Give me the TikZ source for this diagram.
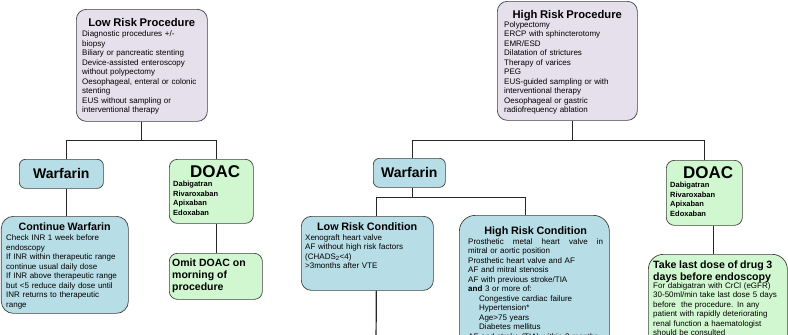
\documentclass[tikz,border=0pt]{standalone}
\usepackage{fontspec}
\setmainfont{Liberation Sans}
\usetikzlibrary{positioning}
\definecolor{procfill}{HTML}{E5E0EC}
\definecolor{warffill}{HTML}{B7DDE6}
\definecolor{doacfill}{HTML}{D0F7CF}

\begin{document}
\begin{tikzpicture}[x=1pt, y=-1pt,
  box/.style={draw=black!75, line width=0.7pt, inner sep=0pt, anchor=north west},
  procbox/.style={box, fill=procfill, rounded corners=10pt},
  warfbox/.style={box, fill=warffill, rounded corners=7pt},
  doacbox/.style={box, fill=doacfill, rounded corners=8pt},
  bigname/.style={font=\bfseries\fontsize{14}{16}\selectfont},
  txt/.style={inner sep=0pt, anchor=north west, align=left, font=\fontsize{8}{9.5}\selectfont},
  drugtxt/.style={txt, font=\bfseries\fontsize{7.5}{9.6}\selectfont},
  link/.style={draw=black!85, line width=1.2pt}]

\useasboundingbox (0,0) rectangle (788,335);
\clip (0,0) rectangle (788,335);

% procedures
\node[procbox, minimum width=131, minimum height=112] (lowproc) at (76,9) {};
\node[txt, text width=119] (lowprocTxt) at (82,17.8) {{\centering\bfseries\fontsize{11.2}{13}\selectfont Low Risk Procedure\par}\vspace{1pt}
  Diagnostic procedures +/-\\ biopsy\\ Biliary or pancreatic stenting\\ Device-assisted enteroscopy\\ without polypectomy\\
  Oesophageal, enteral or colonic\\ stenting\\ EUS without sampling or\\ interventional therapy};

\node[procbox, minimum width=140, minimum height=119] (highproc) at (497,1) {};
\node[txt, text width=126] (highprocTxt) at (504,10) {{\centering\bfseries\fontsize{11.2}{13}\selectfont High Risk Procedure\par}\vspace{-0.5pt}
  Polypectomy\\ ERCP with sphincterotomy\\ EMR/ESD\\ Dilatation of strictures\\ Therapy of varices\\ PEG\\
  EUS-guided sampling or with\\ interventional therapy\\ Oesophageal or gastric\\ radiofrequency ablation};

% low risk side
\node[warfbox, bigname, minimum width=84, minimum height=29, rounded corners=6pt] (warfL) at (19,159) {Warfarin};
\node[doacbox, minimum width=84, minimum height=64] (doacL) at (169,159) {};
\node[drugtxt, text width=84] (doacLTxt) at (173,165.9) {{\centering\fontsize{17}{18}\selectfont DOAC\par}\vspace{-1pt}
  Dabigatran\\ Rivaroxaban\\ Apixaban\\ Edoxaban};

\node[warfbox, minimum width=127, minimum height=97, rounded corners=12pt] (contwarf) at (1,216) {};
\node[txt, text width=117] (contwarfTxt) at (6,223) {{\centering\bfseries\fontsize{10.7}{12}\selectfont Continue Warfarin\par}\vspace{0.5pt}
  Check INR 1 week before\\ endoscopy\\ If INR within therapeutic range\\ continue usual daily dose\\
  If INR above therapeutic range\\ but <5 reduce daily dose until\\ INR returns to therapeutic\\ range};

\node[doacbox, minimum width=93, minimum height=46] (omitdoac) at (169,253) {};
\node[txt, font=\bfseries\fontsize{10.5}{12}\selectfont] (omitdoacTxt) at (172,258.2) {Omit DOAC on\\ morning of\\ procedure};

% high risk side
\node[warfbox, bigname, minimum width=72, minimum height=29, rounded corners=6pt] (warfR) at (373,158) {Warfarin};
\node[doacbox, minimum width=76, minimum height=65] (doacR) at (666,160) {};
\node[drugtxt, text width=76] (doacRTxt) at (670,166.9) {{\centering\fontsize{17}{18}\selectfont DOAC\par}\vspace{-1pt}
  Dabigatran\\ Rivaroxaban\\ Apixaban\\ Edoxaban};

\node[warfbox, minimum width=132, minimum height=74, rounded corners=10pt] (lowcond) at (301,216) {};
\node[txt, text width=124] (lowcondTxt) at (305,222) {{\centering\bfseries\fontsize{10.8}{12}\selectfont Low Risk Condition\par}\vspace{0.5pt}
  Xenograft heart valve\\ AF without high risk factors\\ (CHADS\textsubscript{2}<4)\\ >3months after VTE};

\node[warfbox, minimum width=150, minimum height=140, rounded corners=16pt] (highcond) at (459,215) {};
\node[txt, text width=135] (highcondTxt) at (468,226) {{\centering\bfseries\fontsize{10.8}{12}\selectfont High Risk Condition\par}\vspace{0.5pt}
  Prosthetic\hfill metal\hfill heart\hfill valve\hfill in\\ mitral or aortic position\\ Prosthetic heart valve and AF\\
  AF and mitral stenosis\\ AF with previous stroke/TIA\\ \textbf{and} 3 or more of:\\
  \hspace*{11pt}Congestive cardiac failure\\ \hspace*{11pt}Hypertension*\\ \hspace*{11pt}Age>75 years\\
  \hspace*{11pt}Diabetes mellitus\\ AF and stroke (TIA) within 3 months};

\node[doacbox, minimum width=139, minimum height=110, rounded corners=15pt] (lastdose) at (648,254) {};
\node[txt, text width=132] (lastdoseTxt) at (653,261) {{\bfseries\fontsize{10.6}{11.3}\selectfont Take last dose of drug 3\\ days before endoscopy\par}\vspace{-1.5pt}
  For dabigatran with CrCl (eGFR)\\ 30-50ml/min take last dose 5 days\\ before\ \ the procedure. In any\\
  patient with rapidly deteriorating\\ renal function a haematologist\\ should be consulted};

\coordinate (lcout) at (376,345);

% connectors
\draw[link] (lowproc.south) -- ++(0,19) -| ([xshift=5pt]warfL.north);
\draw[link] (lowproc.south) -- ++(0,19) -| ([xshift=5pt]doacL.north);
\draw[link] ([xshift=5pt]warfL.south) -- ([xshift=5pt]warfL.south |- contwarf.north);
\draw[link] ([xshift=5pt]doacL.south) -- ([xshift=5pt]doacL.south |- omitdoac.north);

\draw[link] ([xshift=5pt]highproc.south) -- ++(0,20) -| ([xshift=3pt]warfR.north);
\draw[link] ([xshift=5pt]highproc.south) -- ++(0,20) -| (doacR.north);
\draw[link] ([xshift=3pt]warfR.south) -- ++(0,10) -| ([xshift=9pt]lowcond.north);
\draw[link] ([xshift=3pt]warfR.south) -- ++(0,10) -| ([xshift=-9pt]highcond.north);
\draw[link] ([xshift=9pt]lowcond.south) -- (lcout);
\draw[link] ([xshift=9pt]doacR.south) -- ([xshift=9pt]doacR.south |- lastdose.north);

\end{tikzpicture}
\end{document}
